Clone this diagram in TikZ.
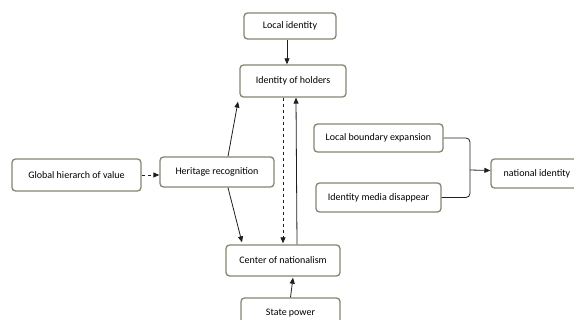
\documentclass[tikz,border=0pt]{standalone}
\usepackage{fontspec}
\setmainfont{Carlito}
\usetikzlibrary{arrows.meta,calc}
\definecolor{boxline}{RGB}{128,136,112}
\definecolor{lineclr}{RGB}{30,30,30}
\tikzset{
  box/.style={draw=boxline, line width=1.3pt, rounded corners=3.5pt, fill=white,
    inner sep=0pt, align=center, font=\fontsize{10}{12}\selectfont},
  conn/.style={draw=lineclr, line width=0.8pt},
  tip/.style={-{Triangle[length=6pt,width=5pt]}},
}
\begin{document}
\begin{tikzpicture}[x=1pt,y=-1pt]
\useasboundingbox (0,0) rectangle (574,320);
\node[box, minimum width=92pt, minimum height=26pt] (li) at (290,26) {Local identity};
\node[box, minimum width=106pt, minimum height=32pt] (ih) at (293,81) {Identity of holders};
\node[box, minimum width=129pt, minimum height=28pt] (lb) at (378.5,138) {Local boundary expansion};
\node[box, minimum width=125pt, minimum height=29pt] (im) at (378.5,197.5) {Identity media disappear};
\node[box, minimum width=92pt, minimum height=29pt] (ni) at (537,173.5) {national identity};
\node[box, minimum width=129pt, minimum height=32pt] (gh) at (76.5,175) {Global hierarch of value};
\node[box, minimum width=114pt, minimum height=30pt] (hr) at (217,172) {Heritage recognition};
\node[box, minimum width=114pt, minimum height=31pt] (cn) at (283,260.5) {Center of nationalism};
\node[box, minimum width=99pt, minimum height=30pt] (sp) at (290.5,313) {State power};
\coordinate (j) at (470,170);

\draw[conn,tip] ([xshift=-3pt]li.south) -- ([xshift=-3pt]li.south |- ih.north);
\draw[conn,tip] ([xshift=11pt]hr.north) -- ([xshift=-55pt,yshift=-4pt]ih.south);
\draw[conn,tip,dashed] (ih.south -| cn.north) -- ([yshift=1pt]cn.north);
\draw[conn,tip] ([xshift=14pt]cn.north) -- ([xshift=3pt]ih.south);
\draw[conn,tip] ([xshift=11pt]hr.south) -- ([xshift=-41pt,yshift=2pt]cn.north);
\draw[conn,tip,dashed] (gh.east) -- (hr.west |- gh.east);
\draw[conn,tip] (sp.north) -- ([xshift=10pt,yshift=-1pt]cn.south);
\draw[conn,rounded corners=4pt] (lb.east) -| (j) |- (im.east);
\draw[conn,tip] (j) -- ([yshift=3pt]ni.west);
\end{tikzpicture}
\end{document}
